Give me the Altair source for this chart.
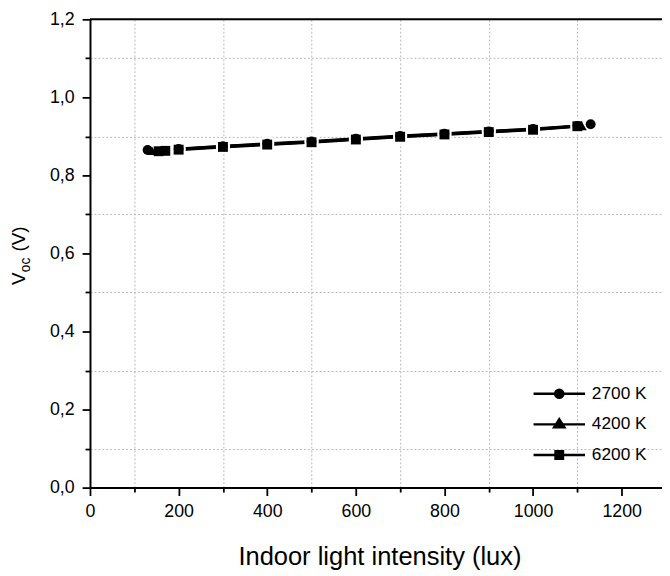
import altair as alt
import pandas as pd

# ---------------- data ----------------
series_names = ["2700 K", "4200 K", "6200 K"]

lux_2700 = [130, 200, 300, 400, 500, 600, 700, 800, 900, 1000, 1100, 1130]
voc_2700 = [0.865, 0.868, 0.875, 0.881, 0.887, 0.894, 0.901, 0.907, 0.913, 0.919, 0.927, 0.931]

lux_4200 = [140, 200, 300, 400, 500, 600, 700, 800, 900, 1000, 1110]
voc_4200 = [0.863, 0.867, 0.874, 0.880, 0.886, 0.893, 0.900, 0.906, 0.912, 0.918, 0.927]

lux_6200 = [155, 170, 200, 300, 400, 500, 600, 700, 800, 900, 1000, 1100]
voc_6200 = [0.862, 0.863, 0.866, 0.873, 0.879, 0.885, 0.892, 0.899, 0.905, 0.911, 0.917, 0.926]

x_ticks = [0, 100, 200, 300, 400, 500, 600, 700, 800, 900, 1000, 1100, 1200]
y_ticks = [0.0, 0.1, 0.2, 0.3, 0.4, 0.5, 0.6, 0.7, 0.8, 0.9, 1.0, 1.1, 1.2]
x_domain = [0, 1291]
y_domain = [0, 1.2]

x_title = "Indoor light intensity (lux)"

# ---------------- table ----------------
rows = []
for name, xs, ys in zip(series_names, [lux_2700, lux_4200, lux_6200], [voc_2700, voc_4200, voc_6200]):
    for a, b in zip(xs, ys):
        rows.append({"series": name, "lux": a, "voc": b})
df = pd.DataFrame(rows)

FONT = "Liberation Sans"

x_axis = alt.Axis(
    values=x_ticks, format="d", title=x_title,
    labelExpr="datum.value % 200 == 0 ? datum.label : ''",
    labelOverlap=False, labelFlush=False,
    tickSize={"condition": {"test": "datum.value % 200 == 0", "value": 8}, "value": 4.5},
    tickColor="black", tickWidth=1.8,
    grid=True,
    gridOpacity={"condition": {"test": "datum.value % 200 == 100", "value": 1}, "value": 0},
    gridDash=[2, 2], gridColor="#b8b8b8", gridWidth=1,
    domainColor="black", domainWidth=2,
    labelFont=FONT, labelFontSize=18, labelColor="black", labelPadding=7,
    titleFont=FONT, titleFontSize=25.8, titleFontWeight="normal", titleColor="black",
    titlePadding=25, titleX=293,
)

y_axis = alt.Axis(
    values=y_ticks, title=None,
    labelExpr="round(datum.value*10) % 2 == 0 ? replace(format(datum.value, '.1f'), '.', ',') : ''",
    labelOverlap=False, labelFlush=False,
    tickSize={"condition": {"test": "round(datum.value*10) % 2 == 0", "value": 8}, "value": 5},
    tickColor="black", tickWidth=1.8,
    grid=True,
    gridOpacity={"condition": {"test": "round(datum.value*10) % 2 == 1", "value": 1}, "value": 0},
    gridDash=[2, 2], gridColor="#b8b8b8", gridWidth=1,
    domainColor="black", domainWidth=2,
    labelFont=FONT, labelFontSize=18, labelColor="black", labelPadding=8,
)

X = alt.X("lux:Q", scale=alt.Scale(domain=x_domain, nice=False, zero=False), axis=x_axis)
Y = alt.Y("voc:Q", scale=alt.Scale(domain=y_domain, nice=False), axis=y_axis)

shape_plain = alt.Shape("series:N",
                        scale=alt.Scale(domain=series_names, range=["circle", "triangle-up", "square"]),
                        legend=None)

# legend glyphs: a short line with the marker on it (unit box of the symbol)
legend_paths = [
    "M-1.27,0L1.27,0M0.205,0A0.205,0.205,0,1,1,-0.205,0A0.205,0.205,0,1,1,0.205,0Z",
    "M-1.27,0L1.27,0M0,-0.26L0.26,0.15L-0.26,0.15Z",
    "M-1.27,0L1.27,0M-0.188,-0.188L0.188,-0.188L0.188,0.188L-0.188,0.188Z",
]

base = alt.Chart(df)

lines = base.mark_line(color="black", strokeWidth=3).encode(x=X, y=Y, detail="series:N")

halo = base.mark_point(filled=True, color="white", opacity=1, size=200).encode(
    x=X, y=Y, shape=shape_plain)

pts = base.mark_point(filled=True, color="black", opacity=1, size=100).encode(
    x=X, y=Y, shape=shape_plain)

legend_layer = base.mark_point(filled=False, color="black", fill="black", strokeWidth=2.3,
                               opacity=0).encode(
    x=X, y=Y,
    shape=alt.Shape("series:N",
                    scale=alt.Scale(domain=series_names, range=legend_paths),
                    legend=alt.Legend(title=None, orient="none", legendX=453, legendY=357,
                                      symbolSize=1681, symbolStrokeWidth=2.3,
                                      symbolOpacity=1,
                                      labelFont=FONT, labelFontSize=17.5, labelColor="black",
                                      labelOffset=11, rowPadding=-2)))

frame_df = pd.DataFrame({"lux": [0, x_domain[1]], "voc": [y_domain[1], y_domain[1]]})
frame = alt.Chart(frame_df).mark_line(color="black", strokeWidth=2).encode(x=X, y=Y)

one = pd.DataFrame({"k": [0]})
t_v = alt.Chart(one).mark_text(text="V", angle=270, align="left", baseline="alphabetic",
                               font=FONT, fontSize=19, color="black").encode(
    x=alt.value(-66), y=alt.value(269))
t_oc = alt.Chart(one).mark_text(text="oc", angle=270, align="left", baseline="alphabetic",
                                font=FONT, fontSize=14, color="black").encode(
    x=alt.value(-61), y=alt.value(256))
t_unit = alt.Chart(one).mark_text(text="(V)", angle=270, align="left", baseline="alphabetic",
                                  font=FONT, fontSize=19, color="black").encode(
    x=alt.value(-66), y=alt.value(235))

chart = alt.layer(lines, halo, pts, legend_layer, frame, t_v, t_oc, t_unit).resolve_scale(
    shape="independent"
).properties(
    width=579, height=474,
    padding={"left": 83, "top": 8, "right": 0, "bottom": 85},
    autosize=alt.AutoSizeParams(type="none"),
).configure_view(stroke=None).configure(background="white")

chart.save("out.html", embed_options={"renderer": "svg", "actions": False})
